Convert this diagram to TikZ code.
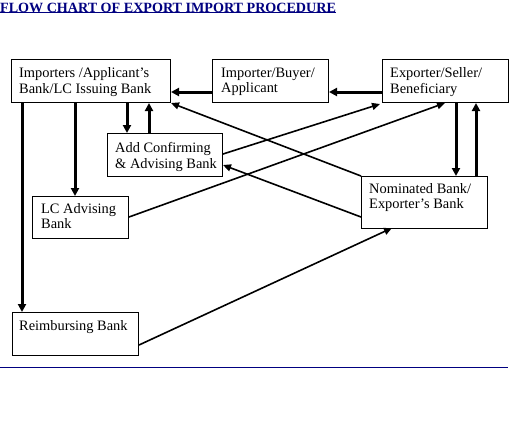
\documentclass[tikz,border=0pt]{standalone}
\usepackage{fontspec}
\setmainfont{Liberation Serif}
\usetikzlibrary{arrows.meta,calc}
\definecolor{navy}{HTML}{000080}
\begin{document}
\begin{tikzpicture}[x=1pt,y=-1pt,
  box/.style={draw,line width=1pt,anchor=north west,inner sep=0pt},
  txt/.style={anchor=north west,align=left,inner sep=0pt,font=\fontsize{14.4}{15.8}\selectfont},
  thk/.style={line width=3pt,-{Triangle[length=8pt,width=8pt]}},
  thn/.style={line width=1.6pt,-{Triangle[length=8pt,width=7pt]}}]
\useasboundingbox (0,0) rectangle (520,424);
% title
\node[anchor=north west,inner sep=0pt,text=navy,font=\fontsize{14.1}{16}\bfseries\selectfont] (title) at (0,2.5) {FLOW CHART OF EXPORT IMPORT PROCEDURE};
\draw[navy,line width=1pt] (title.south west) ++(0,0.3) coordinate (ul1) -- (ul1 -| title.south east);
% boxes
\node[box,minimum width=159pt,minimum height=43pt] (iss) at (11,59) {};
\node[box,minimum width=116pt,minimum height=43pt] (buy) at (212,59) {};
\node[box,minimum width=126pt,minimum height=43pt] (exp) at (382,59) {};
\node[box,minimum width=115pt,minimum height=43pt] (add) at (107,133) {};
\node[box,minimum width=96pt,minimum height=42pt] (adv) at (32,196) {};
\node[box,minimum width=126pt,minimum height=52pt] (nom) at (361,176) {};
\node[box,minimum width=126pt,minimum height=43pt] (rei) at (12,312) {};
% texts
\node[txt] (tiss) at ($(iss.north west)+(8,8.5)$) {Importers /Applicant’s\\Bank/LC Issuing Bank};
\node[txt] (tbuy) at ($(buy.north west)+(9,8.5)$) {Importer/Buyer/\\Applicant};
\node[txt] (texp) at ($(exp.north west)+(8,8.5)$) {Exporter/Seller/\\Beneficiary};
\node[txt] (tadd) at ($(add.north west)+(8,9)$) {Add Confirming\\\& Advising Bank};
\node[txt] (tadv) at ($(adv.north west)+(9,7)$) {LC Advising\\Bank};
\node[txt] (tnom) at ($(nom.north west)+(8,7)$) {Nominated Bank/\\Exporter’s Bank};
\node[txt] (trei) at ($(rei.north west)+(7,8)$) {Reimbursing Bank};
% bottom rule
\coordinate (bl) at (0,367);
\coordinate (br) at (508,367);
\draw[navy,line width=0.9pt] (bl) -- (br);
% thick arrows
\draw[thk] (buy.west |- 0,92) -- (iss.east |- 0,92);
\draw[thk] (exp.west |- 0,92) -- (buy.east |- 0,92);
\draw[thk] (iss.south -| 22,0) -- (rei.north -| 22,0);
\draw[thk] (iss.south -| 75,0) -- (adv.north -| 75,0);
\draw[thk] (iss.south -| 127,0) -- (add.north -| 127,0);
\draw[thk] (add.north -| 149,0) -- (iss.south -| 149,0);
\draw[thk] (exp.south -| 456,0) -- (nom.north -| 456,0);
\draw[thk] (nom.north -| 476,0) -- (exp.south -| 476,0);
% thin arrows
\draw[thn] (nom.north west) -- (iss.south east);
\draw[thn] (add.east |- 0,154) -- ($(exp.south west)+(-2,1)$);
\draw[thn] (adv.east |- 0,217) -- (445,103);
\draw[thn] (nom.west |- 0,217) -- (add.east |- 0,165);
\draw[thn] (rei.east |- 0,345) -- (392,228);
\end{tikzpicture}
\end{document}
